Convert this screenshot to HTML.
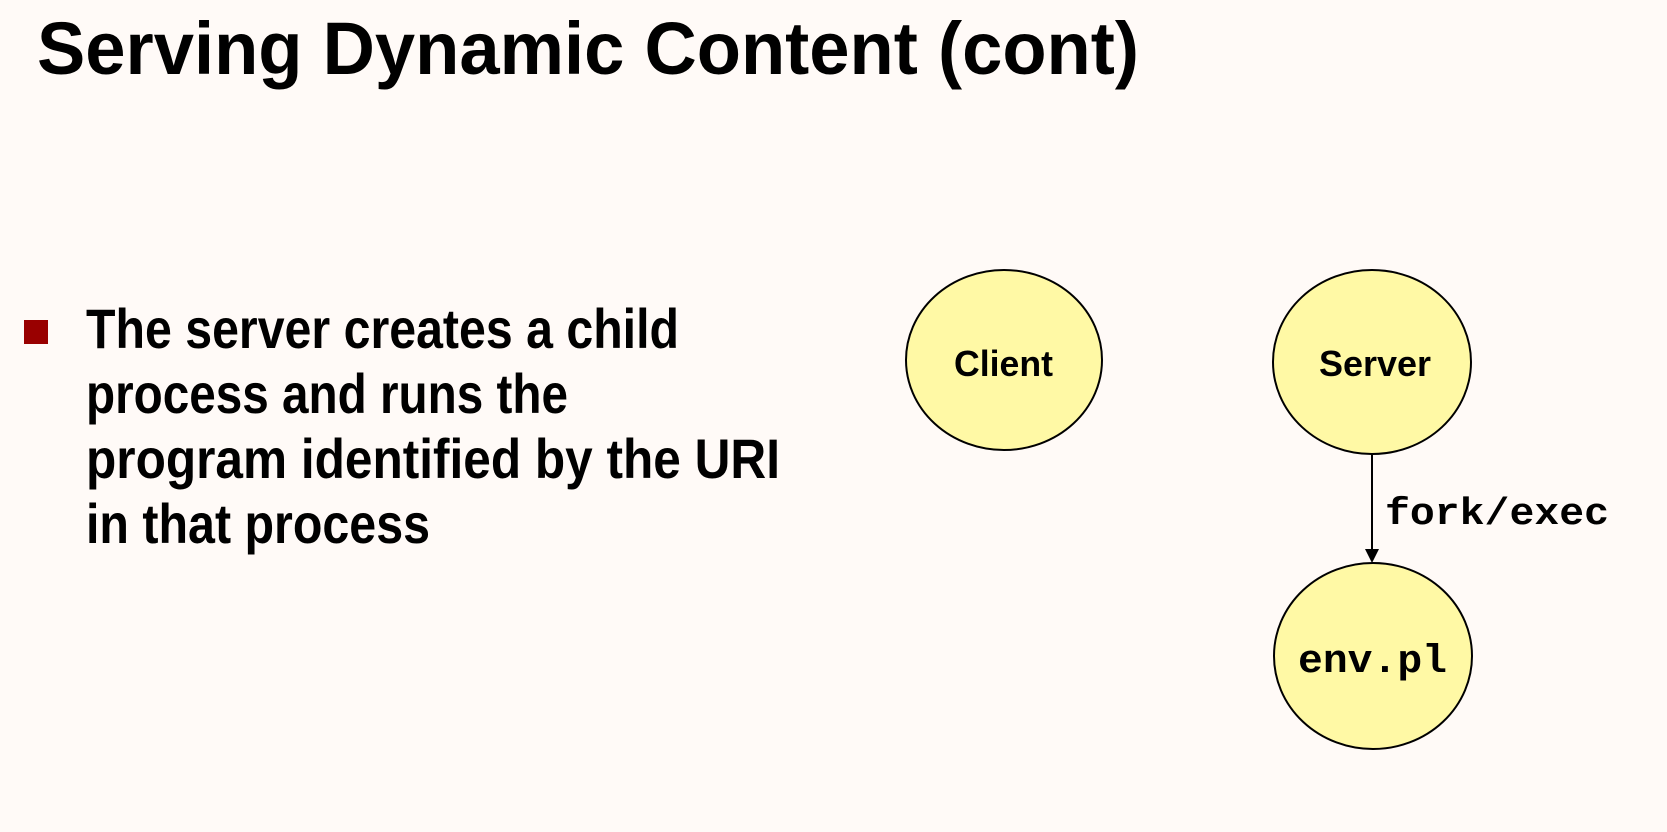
<!DOCTYPE html>
<html><head><meta charset="utf-8"><style>
html,body{margin:0;padding:0;background:#fffaf7;}
svg{display:block;}
.b{font-family:"Liberation Sans",sans-serif;font-weight:bold;fill:#000;}
.m{font-family:"Liberation Mono",monospace;font-weight:bold;fill:#000;}
</style></head><body>
<svg width="1667" height="832" viewBox="0 0 1667 832" xmlns="http://www.w3.org/2000/svg">
<rect width="1667" height="832" fill="#fffaf7"/>
<text class="b" x="37" y="74" font-size="74" textLength="1102" lengthAdjust="spacingAndGlyphs">Serving Dynamic Content (cont)</text>
<rect x="24" y="320" width="24" height="24" fill="#990000"/>
<text class="b" x="86" y="348" font-size="56" textLength="593" lengthAdjust="spacingAndGlyphs">The server creates a child</text>
<text class="b" x="86" y="413" font-size="56" textLength="482" lengthAdjust="spacingAndGlyphs">process and runs the</text>
<text class="b" x="86" y="478" font-size="56" textLength="694" lengthAdjust="spacingAndGlyphs">program identified by the URI</text>
<text class="b" x="86" y="543" font-size="56" textLength="344" lengthAdjust="spacingAndGlyphs">in that process</text>
<ellipse cx="1004" cy="360" rx="98" ry="90" fill="#fff9a5" stroke="#000" stroke-width="2"/>
<text class="b" x="954" y="376" font-size="36" textLength="99" lengthAdjust="spacingAndGlyphs">Client</text>
<ellipse cx="1372" cy="362" rx="99" ry="92" fill="#fff9a5" stroke="#000" stroke-width="2"/>
<text class="b" x="1319" y="376" font-size="36" textLength="112" lengthAdjust="spacingAndGlyphs">Server</text>
<ellipse cx="1373" cy="656" rx="99" ry="93" fill="#fff9a5" stroke="#000" stroke-width="2"/>
<text class="m" x="1298" y="672" font-size="40" textLength="149" lengthAdjust="spacingAndGlyphs">env.pl</text>
<line x1="1372" y1="454" x2="1372" y2="550" stroke="#000" stroke-width="2"/>
<polygon points="1365,549 1379,549 1372,563" fill="#000"/>
<text class="m" x="1385" y="524" font-size="38" textLength="224" lengthAdjust="spacingAndGlyphs">fork/exec</text>
</svg>
</body></html>
